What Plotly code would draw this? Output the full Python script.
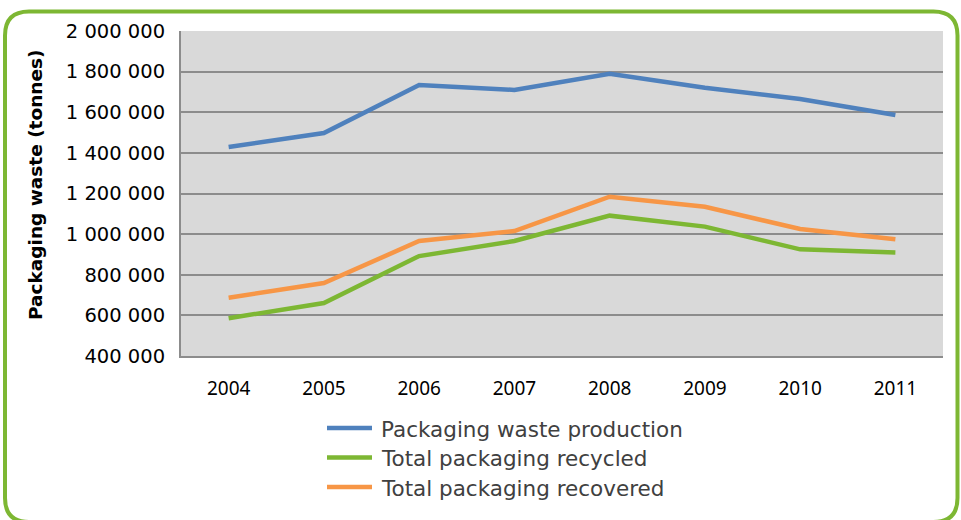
import plotly.graph_objects as go

years = ["2004", "2005", "2006", "2007", "2008", "2009", "2010", "2011"]
waste_production = [1429000, 1498000, 1734000, 1710000, 1790000, 1721000, 1665000, 1586000]
total_recycled = [586000, 661000, 892000, 966000, 1091000, 1037000, 925000, 909000]
total_recovered = [687000, 759000, 966000, 1015000, 1184000, 1135000, 1025000, 975000]

series = [
    ("Packaging waste production", waste_production, "#4F81BD"),
    ("Total packaging recycled", total_recycled, "#7DB733"),
    ("Total packaging recovered", total_recovered, "#F79646"),
]

W, H = 961, 520
L, R, T, B = 181, 18, 31, 164
pw, ph = W - L - R, H - T - B


def px(x):
    return (x - L) / pw


def py(y):
    return (H - B - y) / ph


fig = go.Figure()
for name, vals, color in series:
    fig.add_trace(go.Scatter(
        x=years, y=vals, name=name, mode="lines",
        line=dict(color=color, width=4.5), showlegend=False,
    ))

# legend drawn by hand so the sample lines can be longer
for i, (name, _, color) in enumerate(series):
    yc = 428 + i * 29.5
    fig.add_shape(type="line", xref="paper", yref="paper",
                  x0=px(327), x1=px(372), y0=py(yc), y1=py(yc),
                  line=dict(color=color, width=4.5))
    fig.add_annotation(x=px(379), y=py(yc + 1), xref="paper", yref="paper",
                       text=name, showarrow=False, xanchor="left", yanchor="middle",
                       font=dict(family="DejaVu Sans", size=21.5, color="#404040"))

# vertical axis title
fig.add_annotation(x=px(35), y=py(185), xref="paper", yref="paper",
                   text="<b>Packaging waste (tonnes)</b>", textangle=-90,
                   showarrow=False, xanchor="center", yanchor="middle",
                   font=dict(family="DejaVu Sans", size=18.5, color="#000000"))

# rounded green frame around the whole chart
x0, x1, y0, y1, r = 5, 957.5, 11.5, 522, 24
path = (
    f"M {px(x0)},{py(y0 + r)} "
    f"Q {px(x0)},{py(y0)} {px(x0 + r)},{py(y0)} "
    f"L {px(x1 - r)},{py(y0)} "
    f"Q {px(x1)},{py(y0)} {px(x1)},{py(y0 + r)} "
    f"L {px(x1)},{py(y1 - r)} "
    f"Q {px(x1)},{py(y1)} {px(x1 - r)},{py(y1)} "
    f"L {px(x0 + r)},{py(y1)} "
    f"Q {px(x0)},{py(y1)} {px(x0)},{py(y1 - r)} Z"
)
fig.add_shape(type="path", path=path, xref="paper", yref="paper",
              line=dict(color="#7DB733", width=4), layer="below")

fig.update_layout(
    width=W, height=H,
    margin=dict(l=L, r=R, t=T, b=B),
    paper_bgcolor="white",
    plot_bgcolor="#D9D9D9",
    separators=", ",
    showlegend=False,
    xaxis=dict(
        range=[-0.5, 7.5],
        showgrid=False, showline=True, linecolor="#8C8C8C", linewidth=2,
        ticks="", tickfont=dict(family="Noto Sans", size=19, color="#000000"),
        ticklabelstandoff=14,
    ),
    yaxis=dict(
        range=[400000, 2000000], dtick=200000, tickformat=",d",
        showgrid=True, gridcolor="#8C8C8C", gridwidth=1.5,
        showline=True, linecolor="#8C8C8C", linewidth=2,
        ticks="", zeroline=False,
        tickfont=dict(family="DejaVu Sans", size=19.5, color="#000000"),
        ticklabelstandoff=10,
    ),
)

fig.write_html("out.html")
